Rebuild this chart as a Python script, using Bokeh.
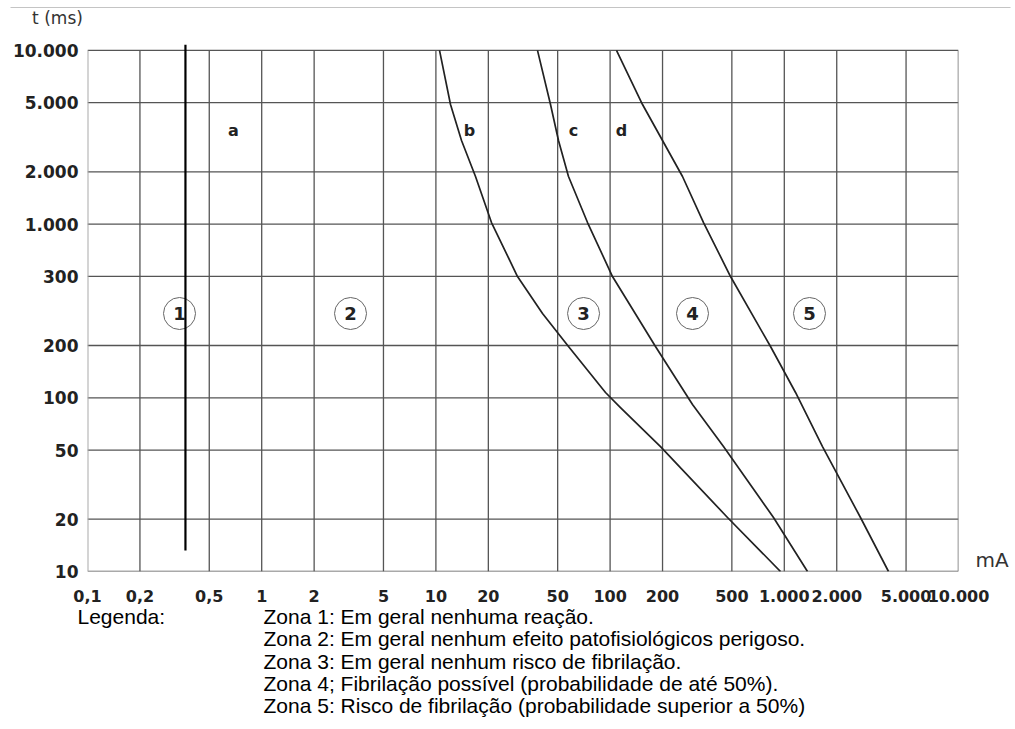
from bokeh.plotting import figure
from bokeh.models import FixedTicker, LogAxis, Range1d
from bokeh.embed import file_html
from bokeh.resources import INLINE
from bokeh.core.properties import value

# ---------------- data ----------------
x_ticks = [0.1, 0.2, 0.5, 1, 2, 5, 10, 20, 50, 100, 200, 500, 1000, 2000, 5000, 10000]
x_labels = ["0,1", "0,2", "0,5", "1", "2", "5", "10", "20", "50", "100", "200",
            "500", "1.000", "2.000", "5.000", "10.000"]
y_ticks = [10, 20, 50, 100, 200, 500, 1000, 2000, 5000, 10000]
y_labels = ["10", "20", "50", "100", "200", "300", "1.000", "2.000", "5.000", "10.000"]

# curve a (vertical limit)
curve_a_ma = [0.365, 0.365]
curve_a_ms = [13.2, 10800]
# curve b
curve_b_ma = [10.49, 12.13, 14.03, 16.88, 20.85, 29.41, 40.93, 57.7, 94.1, 114.7, 194.7, 472, 951]
curve_b_ms = [10000, 4881, 3029, 1880, 1021, 499, 305.7, 197.4, 107.3, 87.9, 52.4, 20.46, 10]
# curve c
curve_c_ma = [38.3, 45.49, 50.55, 57.7, 74.2, 103.2, 182.2, 297.2, 447.7, 866.9, 1359]
curve_c_ms = [10000, 4881, 3029, 1880, 1021, 499, 197.4, 91.5, 52.4, 20.46, 10]
# curve d
curve_d_ma = [108.8, 153.5, 260.4, 343.8, 491.2, 833.5, 1160, 1657, 2737, 3965]
curve_d_ms = [10000, 4881, 1880, 1021, 499, 197.4, 107.3, 52.4, 20.46, 10]

curve_names = ["a", "b", "c", "d"]
curve_name_ma = [0.689, 15.59, 61.6, 116.3]
curve_name_ms = [3459, 3459, 3459, 3459]

zone_names = ["1", "2", "3", "4", "5"]
zone_ma = [0.3374, 3.235, 70.4, 297.2, 1395]
zone_ms = [305.7, 305.7, 305.7, 305.7, 305.7]

x_unit = "mA"
x_unit_at_ms = 11.57
y_unit = "t (ms)"

legend_title = "Legenda:"
legend_lines = [
    "Zona 1: Em geral nenhuma reação.",
    "Zona 2: Em geral nenhum efeito patofisiológicos perigoso.",
    "Zona 3: Em geral nenhum risco de fibrilação.",
    "Zona 4; Fibrilação possível (probabilidade de até 50%).",
    "Zona 5: Risco de fibrilação (probabilidade superior a 50%)",
]

W = 1012


def text_strip(height):
    f = figure(width=W, height=height, x_range=Range1d(0, W), y_range=Range1d(height, 0),
               x_axis_location=None, y_axis_location=None,
               output_backend="svg", toolbar_location=None,
               min_border_left=0, min_border_right=0, min_border_top=0, min_border_bottom=0)
    f.outline_line_color = None
    f.grid.visible = False
    f.background_fill_color = "white"
    f.border_fill_color = "white"
    return f


# ---------------- top strip: rule + y unit ----------------
T = 36
top = text_strip(T)
top.segment(x0=[10], y0=[7], x1=[1010], y1=[7], line_color="#c4c4c4", line_width=1)
top.text([57], [17], text=[y_unit], text_align="center", text_baseline="middle",
         text_font=value("DejaVu Sans"), text_font_size="17px", text_color="#333333")

# ---------------- main chart ----------------
ML, MR, MT, MB = 87, W - 958, 44 - T, 34
H1 = MT + 527 + MB
Y_TOP = 10 ** 4.034

p = figure(width=W, height=H1, x_axis_type="log", y_axis_type="log",
           x_range=(0.1, 10000), y_range=(10, Y_TOP),
           output_backend="svg", toolbar_location=None,
           min_border_left=ML, min_border_right=MR,
           min_border_top=MT, min_border_bottom=MB)
p.outline_line_color = None
p.grid.visible = False
p.background_fill_color = "white"
p.border_fill_color = "white"

# grid
inner_x = x_ticks[1:-1]
p.segment(x0=inner_x, y0=[y_ticks[0]] * len(inner_x), x1=inner_x, y1=[y_ticks[-1]] * len(inner_x),
          line_color="#555555", line_width=1.3)
p.segment(x0=[x_ticks[0]] * len(y_ticks), y0=y_ticks, x1=[x_ticks[-1]] * len(y_ticks), y1=y_ticks,
          line_color="#555555", line_width=1.3)
p.segment(x0=[x_ticks[0]], y0=[y_ticks[0]], x1=[x_ticks[0]], y1=[y_ticks[-1]],
          line_color="#aaaaaa", line_width=2)
p.segment(x0=[x_ticks[-1]], y0=[y_ticks[0]], x1=[x_ticks[-1]], y1=[y_ticks[-1]],
          line_color="#777777", line_width=1.6)

# zone circles
p.scatter(zone_ma, zone_ms, marker="circle", size=32, fill_color="white",
          line_color="#666666", line_width=1)
p.text(zone_ma, zone_ms, text=zone_names, text_align="center", text_baseline="middle",
       text_font=value("DejaVu Sans"), text_font_style="bold", text_font_size="18px",
       text_color="#222222")

# curves
for xs, ys in ((curve_b_ma, curve_b_ms), (curve_c_ma, curve_c_ms), (curve_d_ma, curve_d_ms)):
    p.line(xs, ys, line_color="#222222", line_width=1.7, line_join="round")
p.line(curve_a_ma, curve_a_ms, line_color="black", line_width=2.2)

p.text(curve_name_ma, curve_name_ms, text=curve_names, text_align="center",
       text_baseline="middle", text_font=value("DejaVu Sans"), text_font_style="bold",
       text_font_size="16px", text_color="#222222")

# axes
for ax, ticks, labels, fs in ((p.xaxis, x_ticks, x_labels, "16px"),
                              (p.yaxis, y_ticks, y_labels, "17px")):
    ax.ticker = FixedTicker(ticks=ticks, minor_ticks=[])
    ax.major_label_overrides = {t: l for t, l in zip(ticks, labels)}
    ax.axis_line_color = None
    ax.major_tick_line_color = None
    ax.minor_tick_line_color = None
    ax.major_tick_out = 0
    ax.major_tick_in = 0
    ax.major_label_text_font = "DejaVu Sans"
    ax.major_label_text_font_style = "bold"
    ax.major_label_text_font_size = fs
    ax.major_label_text_color = "#222222"
p.xaxis.major_label_standoff = 18
p.yaxis.major_label_standoff = 9

# x unit ("mA") at the right end of the x axis
unit_axis = LogAxis(ticker=FixedTicker(ticks=[x_unit_at_ms], minor_ticks=[]),
                    major_label_overrides={x_unit_at_ms: x_unit})
unit_axis.axis_line_color = None
unit_axis.major_tick_line_color = None
unit_axis.minor_tick_line_color = None
unit_axis.major_tick_out = 0
unit_axis.major_tick_in = 0
unit_axis.major_label_standoff = 17
unit_axis.major_label_text_font = "DejaVu Sans"
unit_axis.major_label_text_font_size = "20px"
unit_axis.major_label_text_color = "#333333"
p.add_layout(unit_axis, "right")

# ---------------- legend strip ----------------
LEG_TOP = T + H1
H2 = 726 - LEG_TOP
leg = text_strip(H2)
base0, step = 616 - LEG_TOP, 22.25
leg.text([77], [base0], text=[legend_title], text_align="left", text_baseline="alphabetic",
         text_font=value("Liberation Sans"), text_font_size="21px", text_color="black")
leg.text([263] * len(legend_lines), [base0 + i * step for i in range(len(legend_lines))],
         text=legend_lines, text_align="left", text_baseline="alphabetic",
         text_font=value("Liberation Sans"), text_font_size="21px", text_color="black")

open("out.html", "w").write(file_html([top, p, leg], INLINE))
